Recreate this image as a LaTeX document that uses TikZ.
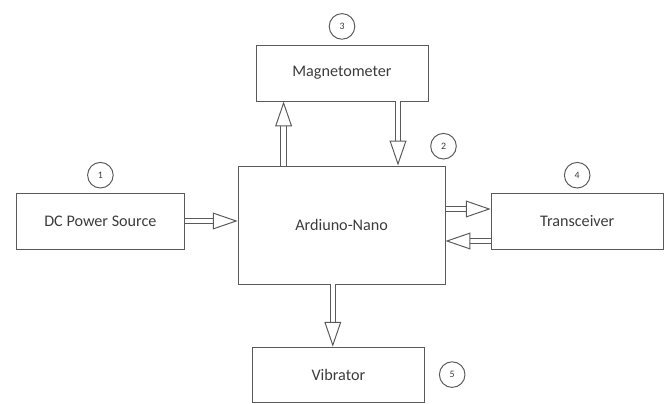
\documentclass[tikz,border=0pt]{standalone}
\usepackage{fontspec}
\setmainfont{Carlito}
\usetikzlibrary{arrows.meta, positioning, calc}
\definecolor{linegray}{RGB}{90, 90, 90}
\definecolor{textgray}{RGB}{60, 60, 60}

\begin{document}
\begin{tikzpicture}[
    line width=0.7pt,
    box/.style={draw=linegray, minimum width=4.3cm, minimum height=1.4cm,
                font=\fontsize{11.5}{13}\selectfont, text=textgray},
    num/.style={draw=linegray, circle, minimum size=0.64cm, inner sep=0pt,
                font=\scriptsize, text=textgray},
    arrow/.style={draw=linegray, double=white, double distance=3.2pt,
                  -{Triangle[open, length=0.62cm, width=0.42cm]}}
]
    \useasboundingbox (0,0) rectangle (16.75,10.075);

    \node[box, minimum width=5.17cm, minimum height=2.95cm] (nano) at (8.54,4.45) {Ardiuno-Nano};
    \node[box] (mag) at (8.55,8.25) {Magnetometer};
    \node[box, minimum width=4.22cm] (dc) at (2.51,4.55) {DC Power Source};
    \node[box] (trx) at (14.43,4.55) {Transceiver};
    \node[box, minimum height=1.37cm] (vib) at (8.46,0.71) {Vibrator};

    \node[num, above=0.1cm of dc] (n1) {1};
    \node[num, above=0.15cm of nano.north east, xshift=-0.05cm] (n2) {2};
    \node[num, above=0.12cm of mag] (n3) {3};
    \node[num, above=0.1cm of trx] (n4) {4};
    \node[num, right=0.35cm of vib] (n5) {5};

    \coordinate (up) at ([xshift=-1.45cm]nano.north);
    \coordinate (down) at ([xshift=1.4cm]mag.south);
    \coordinate (vdown) at ([xshift=-0.14cm]vib.north);

    \draw[arrow] (up) -- (up |- mag.south);
    \draw[arrow] (down) -- (down |- nano.north);
    \draw[arrow] (dc.east) -- (dc.east -| nano.west);
    \draw[arrow] ([yshift=0.4cm]nano.east) -- ([yshift=0.4cm]nano.east -| trx.west);
    \draw[arrow] ([yshift=-0.4cm]nano.east -| trx.west) -- ([yshift=-0.4cm]nano.east);
    \draw[arrow] (vdown |- nano.south) -- (vdown);
\end{tikzpicture}
\end{document}
